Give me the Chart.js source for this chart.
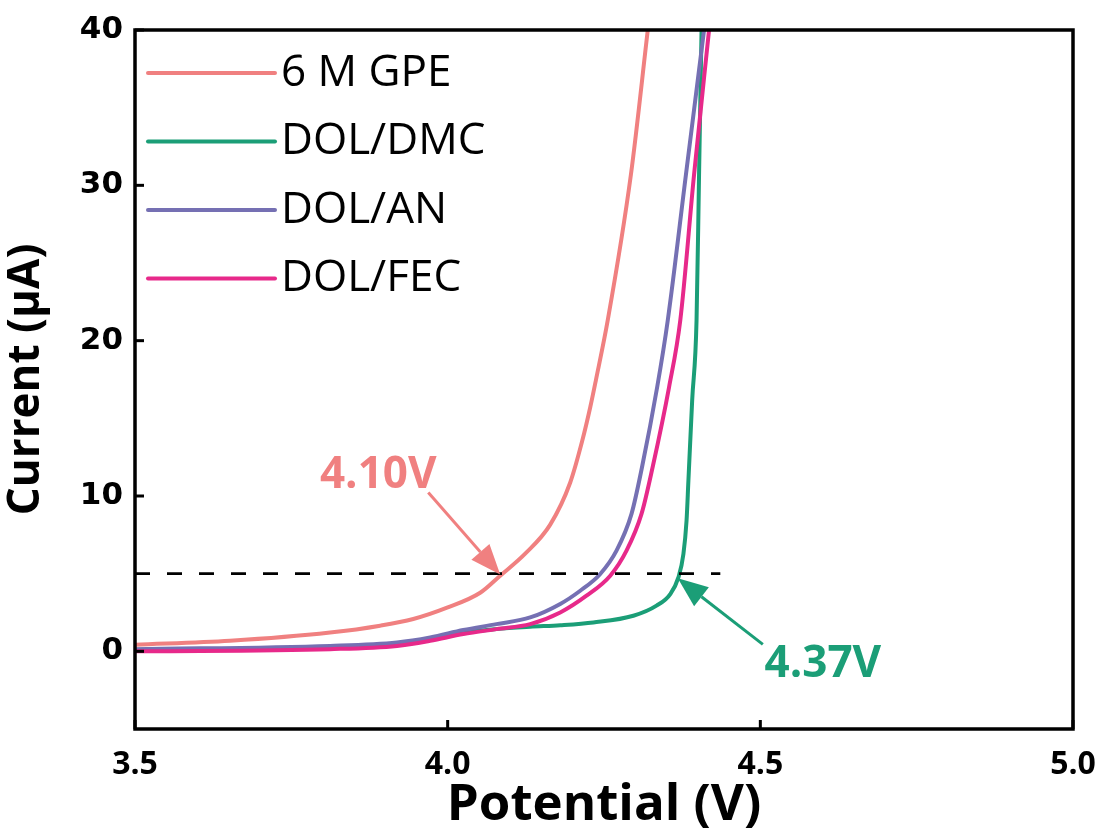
<!DOCTYPE html>
<html>
<head>
<meta charset="utf-8">
<script src="https://cdn.jsdelivr.net/npm/chart.js@4/dist/chart.umd.min.js"></script>
<style>
  html, body { margin: 0; padding: 0; background: #fff; }
  #wrap { width: 1097px; height: 836px; }
</style>
</head>
<body>
<div id="wrap"><canvas id="lsvChart" width="1097" height="836"></canvas></div>
<script>
// values: potential (V) and current (uA)
const potGPE = [3.500, 3.652, 3.812, 3.892, 3.945, 3.999, 4.052, 4.084, 4.124, 4.164, 4.196, 4.215, 4.228, 4.237, 4.256, 4.293, 4.320];
const curGPE = [0.42, 0.68, 1.21, 1.65, 2.08, 2.81, 3.77, 4.87, 6.29, 8.16, 10.87, 13.52, 15.71, 17.45, 21.32, 30.68, 40.0];

const potDMC = [3.500, 3.812, 3.919, 3.972, 4.025, 4.078, 4.132, 4.180, 4.233, 4.297, 4.334, 4.356, 4.369, 4.377, 4.382, 4.385, 4.391, 4.398, 4.402, 4.406];
const curDMC = [0.10, 0.20, 0.40, 0.74, 1.19, 1.43, 1.58, 1.68, 1.86, 2.29, 2.94, 3.69, 4.76, 6.27, 8.42, 11.0, 16.16, 21.32, 30.68, 40.0];

const potAN = [3.500, 3.812, 3.919, 3.972, 4.025, 4.078, 4.132, 4.180, 4.212, 4.244, 4.270, 4.294, 4.311, 4.335, 4.352, 4.381, 4.410];
const curAN = [0.14, 0.35, 0.57, 0.89, 1.37, 1.75, 2.18, 3.05, 3.90, 4.98, 6.48, 8.85, 11.90, 17.00, 21.32, 30.68, 40.0];

const potFEC = [3.500, 3.812, 3.919, 3.972, 4.025, 4.078, 4.132, 4.180, 4.222, 4.260, 4.286, 4.310, 4.328, 4.354, 4.372, 4.394, 4.418];
const curFEC = [0.00, 0.14, 0.35, 0.68, 1.11, 1.43, 1.75, 2.50, 3.58, 4.87, 6.48, 8.85, 11.90, 17.00, 21.32, 30.68, 40.0];

const seriesNames = ['6 M GPE', 'DOL/DMC', 'DOL/AN', 'DOL/FEC'];
const seriesColors = ['#f08080', '#1b9e77', '#7570b3', '#e7298a'];

// 5 uA threshold line
const refPot = [3.5, 4.436];
const refCur = [5, 5];

const xTickValues = [3.5, 4.0, 4.5, 5.0];
const yTickValues = [0, 10, 20, 30, 40];

// arrow annotations: [label, color, label x, label y, tail x, tail y, tip x, tip y]
const notes = [
    ['4.10V', '#f08080', 3.889, 11.3, 3.969, 10.23, 4.084, 4.95],
    ['4.37V', '#1b9e77', 4.600, -0.85, 4.504, 0.45, 4.368, 4.70]
];

function toPoints(xs, ys) {
    return xs.map((x, i) => ({ x: x, y: ys[i] }));
}

const seriesData = [
    toPoints(potGPE, curGPE),
    toPoints(potDMC, curDMC),
    toPoints(potAN, curAN),
    toPoints(potFEC, curFEC)
];
const drawOrder = [3, 2, 1, 0];

const datasets = seriesData.map((pts, i) => ({
    label: seriesNames[i],
    data: pts,
    borderColor: seriesColors[i],
    borderWidth: 4,
    pointRadius: 0,
    cubicInterpolationMode: 'monotone',
    fill: false,
    order: drawOrder[i]
}));

datasets.push({
    label: 'ref',
    data: toPoints(refPot, refCur),
    borderColor: '#000',
    borderWidth: 2.8,
    borderDash: [15, 17],
    pointRadius: 0,
    fill: false,
    order: -1
});

// frame, inside ticks, legend and arrows
const decorations = {
    id: 'decorations',
    afterDatasetsDraw(chart) {
        const ctx = chart.ctx;
        const a = chart.chartArea;
        const xs = chart.scales.x;
        const ys = chart.scales.y;
        ctx.save();

        // ticks pointing inward
        ctx.strokeStyle = '#000';
        ctx.lineWidth = 3;
        yTickValues.forEach(v => {
            const py = ys.getPixelForValue(v);
            ctx.beginPath();
            ctx.moveTo(a.left, py);
            ctx.lineTo(a.left + 9, py);
            ctx.stroke();
        });
        xTickValues.forEach(v => {
            const px = xs.getPixelForValue(v);
            ctx.beginPath();
            ctx.moveTo(px, a.bottom);
            ctx.lineTo(px, a.bottom - 9);
            ctx.stroke();
        });

        // frame
        ctx.lineWidth = 3.5;
        ctx.strokeRect(a.left, a.top, a.right - a.left, a.bottom - a.top);

        // legend
        ctx.font = '44px "Open Sans"';
        ctx.textBaseline = 'middle';
        ctx.textAlign = 'left';
        seriesNames.forEach((name, i) => {
            const y = a.top + 43 + i * 68.5;
            ctx.strokeStyle = seriesColors[i];
            ctx.lineWidth = 4;
            ctx.lineCap = 'round';
            ctx.beginPath();
            ctx.moveTo(a.left + 13, y);
            ctx.lineTo(a.left + 140, y);
            ctx.stroke();
            ctx.fillStyle = '#000';
            ctx.fillText(name, a.left + 146, y);
        });

        // arrows with labels
        notes.forEach(n => {
            const [txt, col, lx, ly, tx, ty, hx, hy] = n;
            const x0 = xs.getPixelForValue(tx), y0 = ys.getPixelForValue(ty);
            const x1 = xs.getPixelForValue(hx), y1 = ys.getPixelForValue(hy);
            const ang = Math.atan2(y1 - y0, x1 - x0);
            const headLen = 30, headW = 12;
            const bx = x1 - headLen * Math.cos(ang), by = y1 - headLen * Math.sin(ang);
            ctx.strokeStyle = col;
            ctx.fillStyle = col;
            ctx.lineWidth = 3;
            ctx.lineCap = 'butt';
            ctx.beginPath();
            ctx.moveTo(x0, y0);
            ctx.lineTo(bx, by);
            ctx.stroke();
            ctx.beginPath();
            ctx.moveTo(x1, y1);
            ctx.lineTo(bx + headW * Math.sin(ang), by - headW * Math.cos(ang));
            ctx.lineTo(bx - headW * Math.sin(ang), by + headW * Math.cos(ang));
            ctx.closePath();
            ctx.fill();

            ctx.font = 'bold 44px "Open Sans"';
            ctx.textAlign = 'center';
            ctx.textBaseline = 'middle';
            ctx.fillText(txt, xs.getPixelForValue(lx), ys.getPixelForValue(ly));
        });

        ctx.restore();
    }
};

const ctx = document.getElementById('lsvChart').getContext('2d');
new Chart(ctx, {
    type: 'line',
    data: { datasets: datasets },
    options: {
        responsive: false,
        animation: false,
        layout: { padding: { top: 30, right: 24, left: 0, bottom: 0 } },
        plugins: {
            legend: { display: false },
            tooltip: { enabled: false }
        },
        scales: {
            x: {
                type: 'linear',
                min: 3.5,
                max: 5.0,
                grid: { display: false, drawTicks: false },
                border: { display: false },
                afterBuildTicks: (scale) => { scale.ticks = xTickValues.map(v => ({ value: v })); },
                afterFit: (scale) => {
                    scale.height = 107;
                    scale.paddingLeft = 0;
                    scale.paddingRight = 0;
                },
                ticks: {
                    color: '#000',
                    padding: 17,
                    font: { family: 'Open Sans', weight: 'bold', size: 32 },
                    callback: (v) => Number(v).toFixed(1)
                },
                title: {
                    display: true,
                    text: 'Potential (V)',
                    color: '#000',
                    padding: { top: -6, bottom: 0 },
                    font: { family: 'Open Sans', weight: 'bold', size: 51 }
                }
            },
            y: {
                type: 'linear',
                min: -5,
                max: 40,
                grid: { display: false, drawTicks: false },
                border: { display: false },
                afterBuildTicks: (scale) => { scale.ticks = yTickValues.map(v => ({ value: v })); },
                afterFit: (scale) => {
                    scale.width = 135;
                    scale.paddingTop = 0;
                    scale.paddingBottom = 0;
                },
                ticks: {
                    color: '#000',
                    padding: 12,
                    font: { family: 'DejaVu Sans', weight: 'bold', size: 31 }
                },
                title: {
                    display: true,
                    text: 'Current (μA)',
                    color: '#000',
                    padding: { top: 0, bottom: 2 },
                    font: { family: 'Open Sans', weight: 'bold', size: 44 }
                }
            }
        }
    },
    plugins: [decorations]
});
</script>
</body>
</html>
